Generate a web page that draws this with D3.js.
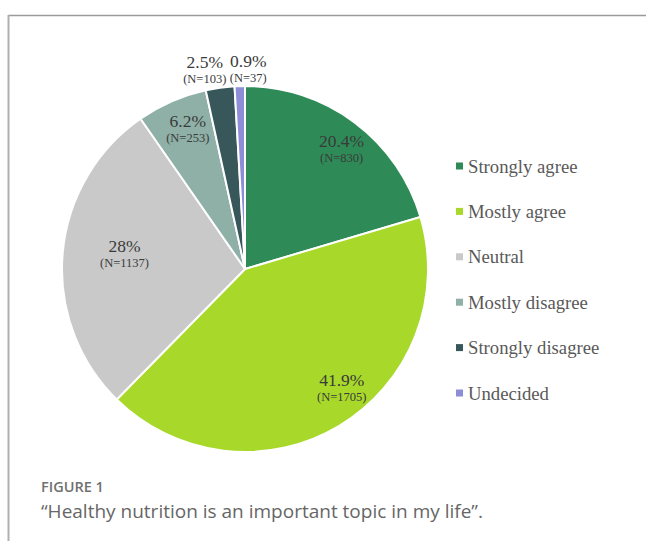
<!DOCTYPE html>
<html>
<head>
<meta charset="utf-8">
<script src="https://cdn.jsdelivr.net/npm/d3@7"></script>
<style>
  html, body { margin: 0; padding: 0; background: #fff; }
  svg { display: block; }
</style>
</head>
<body>
<script>
// Survey responses: "Healthy nutrition is an important topic in my life"
const categories = ["Strongly agree", "Mostly agree", "Neutral", "Mostly disagree", "Strongly disagree", "Undecided"];
const counts = [830, 1705, 1137, 253, 103, 37];
const percentLabels = ["20.4%", "41.9%", "28%", "6.2%", "2.5%", "0.9%"];
const colors = ["#2e8b57", "#a8d82a", "#c9c9c9", "#8fb0a7", "#37575a", "#8e8ed8"];

const W = 646, H = 541;
const serif = "'Liberation Serif', 'Times New Roman', Times, serif";
const svg = d3.select("body").append("svg").attr("width", W).attr("height", H);

// Frame lines (top and left)
svg.append("line").attr("x1", 8).attr("x2", W).attr("y1", 15.5).attr("y2", 15.5)
  .attr("stroke", "#9a9a9a").attr("stroke-width", 1.5);
svg.append("line").attr("x1", 8.5).attr("x2", 8.5).attr("y1", 15).attr("y2", H)
  .attr("stroke", "#b0b0b0").attr("stroke-width", 2);

const cx = 245, cy = 269, R = 183;
const data = categories.map((c, i) => ({ cat: c, n: counts[i], pct: percentLabels[i], color: colors[i] }));

const pie = d3.pie().value(d => d.n).sort(null);
const arcs = pie(data);
const arc = d3.arc().innerRadius(0).outerRadius(R);

const g = svg.append("g").attr("transform", `translate(${cx},${cy})`);
g.selectAll("path.slice").data(arcs).join("path")
  .attr("class", "slice")
  .attr("d", arc)
  .attr("fill", d => d.data.color)
  .attr("stroke", "#fff")
  .attr("stroke-width", 2)
  .attr("stroke-linejoin", "round");

// Label placement: ring radius per slice plus a small nudge so labels sit clear of edges
const labelRadius = [153, 153, 121, 153, 200, 200];
const labelNudge = [[5, 2], [18, -13], [0, -6], [4, -1], [-13, -2], [9, -1]];
function labelPos(d, i) {
  const mid = (d.startAngle + d.endAngle) / 2;
  const r = labelRadius[i];
  return [r * Math.sin(mid) + labelNudge[i][0], -r * Math.cos(mid) + labelNudge[i][1]];
}

const labels = g.selectAll("g.lbl").data(arcs).join("g")
  .attr("class", "lbl")
  .attr("transform", (d, i) => { const p = labelPos(d, i); return `translate(${p[0]},${p[1]})`; });

labels.append("text")
  .attr("text-anchor", "middle")
  .attr("y", -1)
  .attr("font-family", serif)
  .attr("font-size", 17.5)
  .attr("fill", "#3a3a3a")
  .text(d => d.data.pct);

labels.append("text")
  .attr("text-anchor", "middle")
  .attr("y", 14)
  .attr("font-family", serif)
  .attr("font-size", 12.5)
  .attr("fill", "#3a3a3a")
  .text(d => `(N=${d.data.n})`);

// Legend
const legY = d3.scalePoint().domain(categories).range([166, 393]);
const items = svg.append("g").selectAll("g").data(data).join("g")
  .attr("transform", d => `translate(456,${legY(d.cat)})`);
items.append("rect").attr("x", 0).attr("y", -3.5).attr("width", 7).attr("height", 7)
  .attr("fill", d => d.color);
items.append("text").attr("x", 12).attr("y", 6.5)
  .attr("font-family", serif)
  .attr("font-size", 18.7)
  .attr("fill", "#595959")
  .text(d => d.cat);

// Caption
svg.append("text").attr("x", 41).attr("y", 492)
  .attr("font-family", "'Open Sans', sans-serif")
  .attr("font-size", 14.5).attr("font-weight", 600)
  .attr("fill", "#707070")
  .text("FIGURE 1");
svg.append("text").attr("x", 41).attr("y", 518)
  .attr("font-family", "'Open Sans', sans-serif")
  .attr("font-size", 19)
  .attr("fill", "#666")
  .text("“Healthy nutrition is an important topic in my life”.");
</script>
</body>
</html>
